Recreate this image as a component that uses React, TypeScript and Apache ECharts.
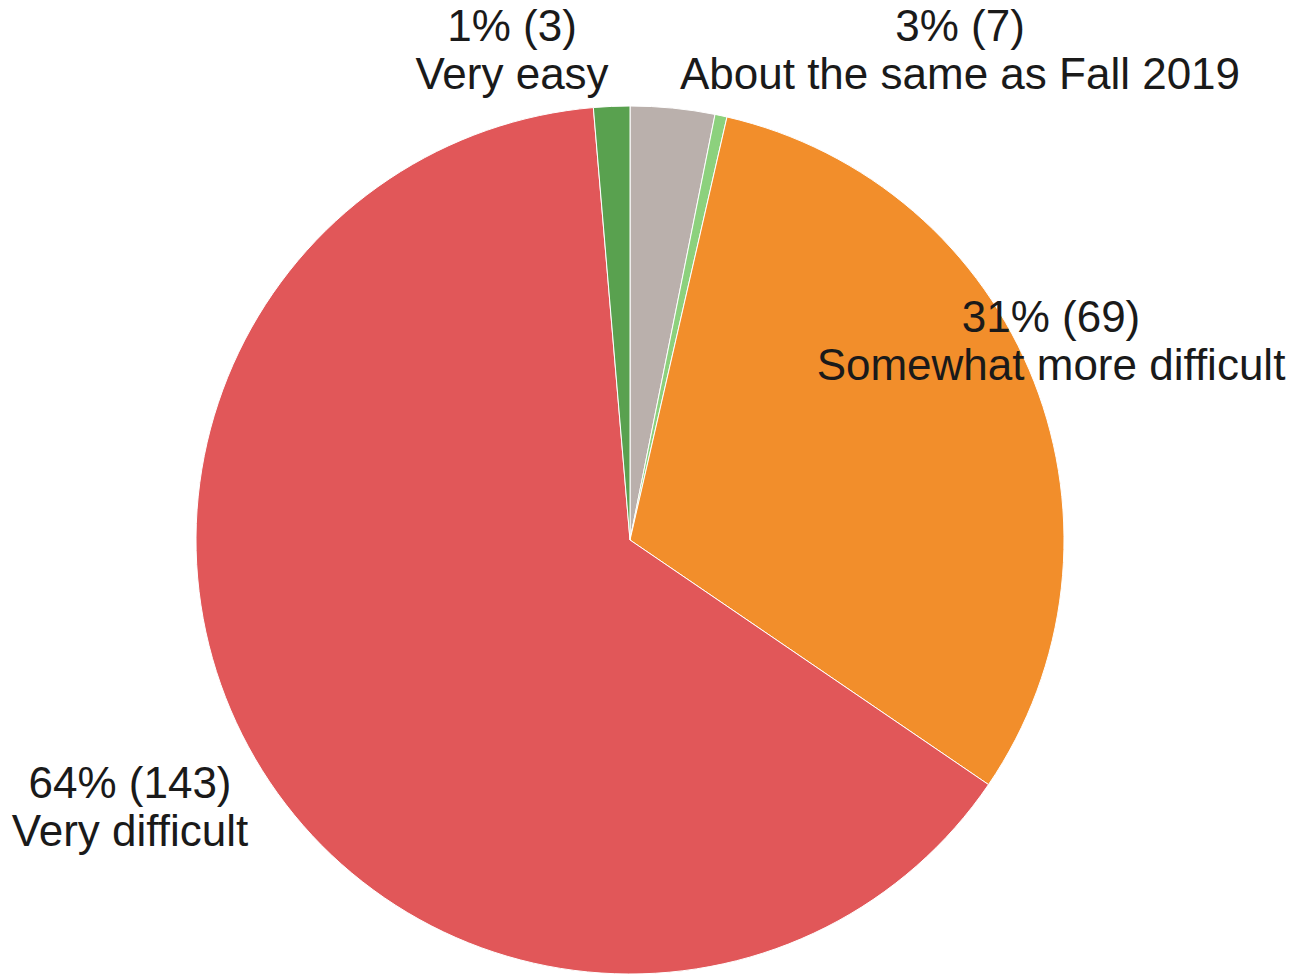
import React, { useEffect, useRef } from "react";
import * as echarts from "echarts";

const categories = [
  "About the same as Fall 2019",
  "Somewhat easier",
  "Somewhat more difficult",
  "Very difficult",
  "Very easy",
];
const counts = [7, 1, 69, 143, 3];
const colors = ["#BAB0AC", "#8CD17D", "#F28E2B", "#E15759", "#59A14F"];
const showLabel = [true, false, true, true, true];
// label block centres (layout only)
const labelPos: [number, number][] = [
  [960, 49],
  [0, 0],
  [1051, 340],
  [130, 806],
  [512, 49],
];

export default function App() {
  const ref = useRef<HTMLDivElement>(null);
  useEffect(() => {
    if (!ref.current) return;
    const chart = echarts.init(ref.current, null, { renderer: "svg" });
    const total = counts.reduce((a, b) => a + b, 0);
    chart.setOption({
      animation: false,
      backgroundColor: "#ffffff",
      series: [
        {
          type: "pie",
          center: [630, 540],
          radius: [0, 434],
          startAngle: 90,
          clockwise: true,
          avoidLabelOverlap: false,
          itemStyle: { borderColor: "#ffffff", borderWidth: 1 },
          emphasis: { disabled: true },
          label: {
            show: true,
            position: "outside",
            color: "#1a1a1a",
            fontFamily: "Liberation Sans, Arial, sans-serif",
            fontSize: 44,
            lineHeight: 48,
            align: "center",
            formatter: (p: any) =>
              `${Math.round((p.value / total) * 100)}% (${p.value})\n${p.name}`,
          },
          labelLine: { show: false },
          labelLayout: (p: any) => ({
            x: labelPos[p.dataIndex][0],
            y: labelPos[p.dataIndex][1],
            align: "center",
            verticalAlign: "middle",
          }),
          data: categories.map((name, i) => ({
            name,
            value: counts[i],
            itemStyle: { color: colors[i] },
            label: { show: showLabel[i] },
          })),
        },
      ],
    });
    return () => chart.dispose();
  }, []);
  return (
    <div
      ref={ref}
      style={{ position: "absolute", left: 0, top: 0, width: 1298, height: 975 }}
    />
  );
}
